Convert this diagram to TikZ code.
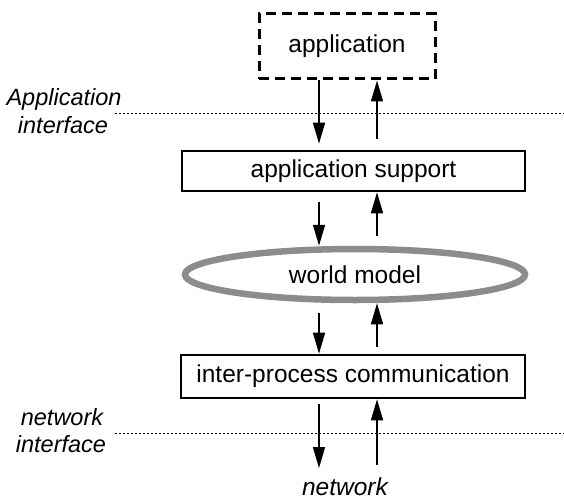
\documentclass[tikz,border=0pt]{standalone}
\usepackage{fontspec}
\setmainfont{Liberation Sans}
\usetikzlibrary{arrows.meta,shapes.geometric}
\definecolor{wmgray}{RGB}{140,140,140}
\begin{document}
\begin{tikzpicture}[x=1pt,y=-1pt,
  boxtext/.style={font=\fontsize{24.5}{29}\selectfont, inner sep=0pt},
  layerbox/.style={boxtext, draw, line width=2.6pt, minimum width=343pt, minimum height=40pt},
  appbox/.style={boxtext, draw, line width=3pt, dash pattern=on 10pt off 6pt, minimum width=176pt, minimum height=65pt},
  wmshape/.style={boxtext, ellipse, draw=wmgray, line width=6.5pt, minimum width=340pt, minimum height=51pt},
  arr/.style={line width=1.5pt, -{Triangle[length=21pt,width=12pt]}},
  iface/.style={font=\fontsize{23.5}{27}\selectfont\itshape, inner sep=0pt, anchor=base},
  sepline/.style={line width=1pt, dash pattern=on 2pt off 2pt}
]
\useasboundingbox (0,0) rectangle (564,500);

\node[appbox] (app) at (347,46.5) {application};
\node[layerbox] (sup) at (353.5,171) {application support};
\node[wmshape] (wm) at (355,274.5) {world model};
\node[layerbox, minimum width=344pt, minimum height=43pt] (ipc) at (353,376.5) {inter-process communication};
\node[boxtext, font=\fontsize{24.5}{29}\selectfont\itshape, anchor=base] (net) at (345,495) {network};

\node[iface] (ai1) at (64,106) {Application};
\node[iface] (ai2) at (63,133) {interface};
\node[iface] (ni1) at (62,425) {network};
\node[iface] (ni2) at (61,452) {interface};

\coordinate (aiL) at (115,113);
\coordinate (aiR) at (564,113);
\coordinate (niL) at (115,433);
\coordinate (niR) at (564,433);
\draw[sepline] (aiL) -- (aiR);
\draw[sepline] (niL) -- (niR);

\coordinate (dn) at (319,0);
\coordinate (up) at (377,0);

\draw[arr] (app.south -| dn) -- ([yshift=6pt]sup.north -| dn);
\draw[arr] ([yshift=11pt]sup.north -| up) -- (app.south -| up);
\draw[arr] ([yshift=-10pt]sup.south -| dn) -- (wm.north -| dn);
\draw[arr] ([yshift=10pt]wm.north -| up) -- (sup.south -| up);
\draw[arr] ([yshift=-10pt]wm.south -| dn) -- (ipc.north -| dn);
\draw[arr] ([yshift=7pt]ipc.north -| up) -- (wm.south -| up);
\draw[arr] ([yshift=-5pt]ipc.south -| dn) -- ([yshift=9pt]net.north -| dn);
\draw[arr] ([yshift=12pt]net.north -| up) -- (ipc.south -| up);
\end{tikzpicture}
\end{document}
